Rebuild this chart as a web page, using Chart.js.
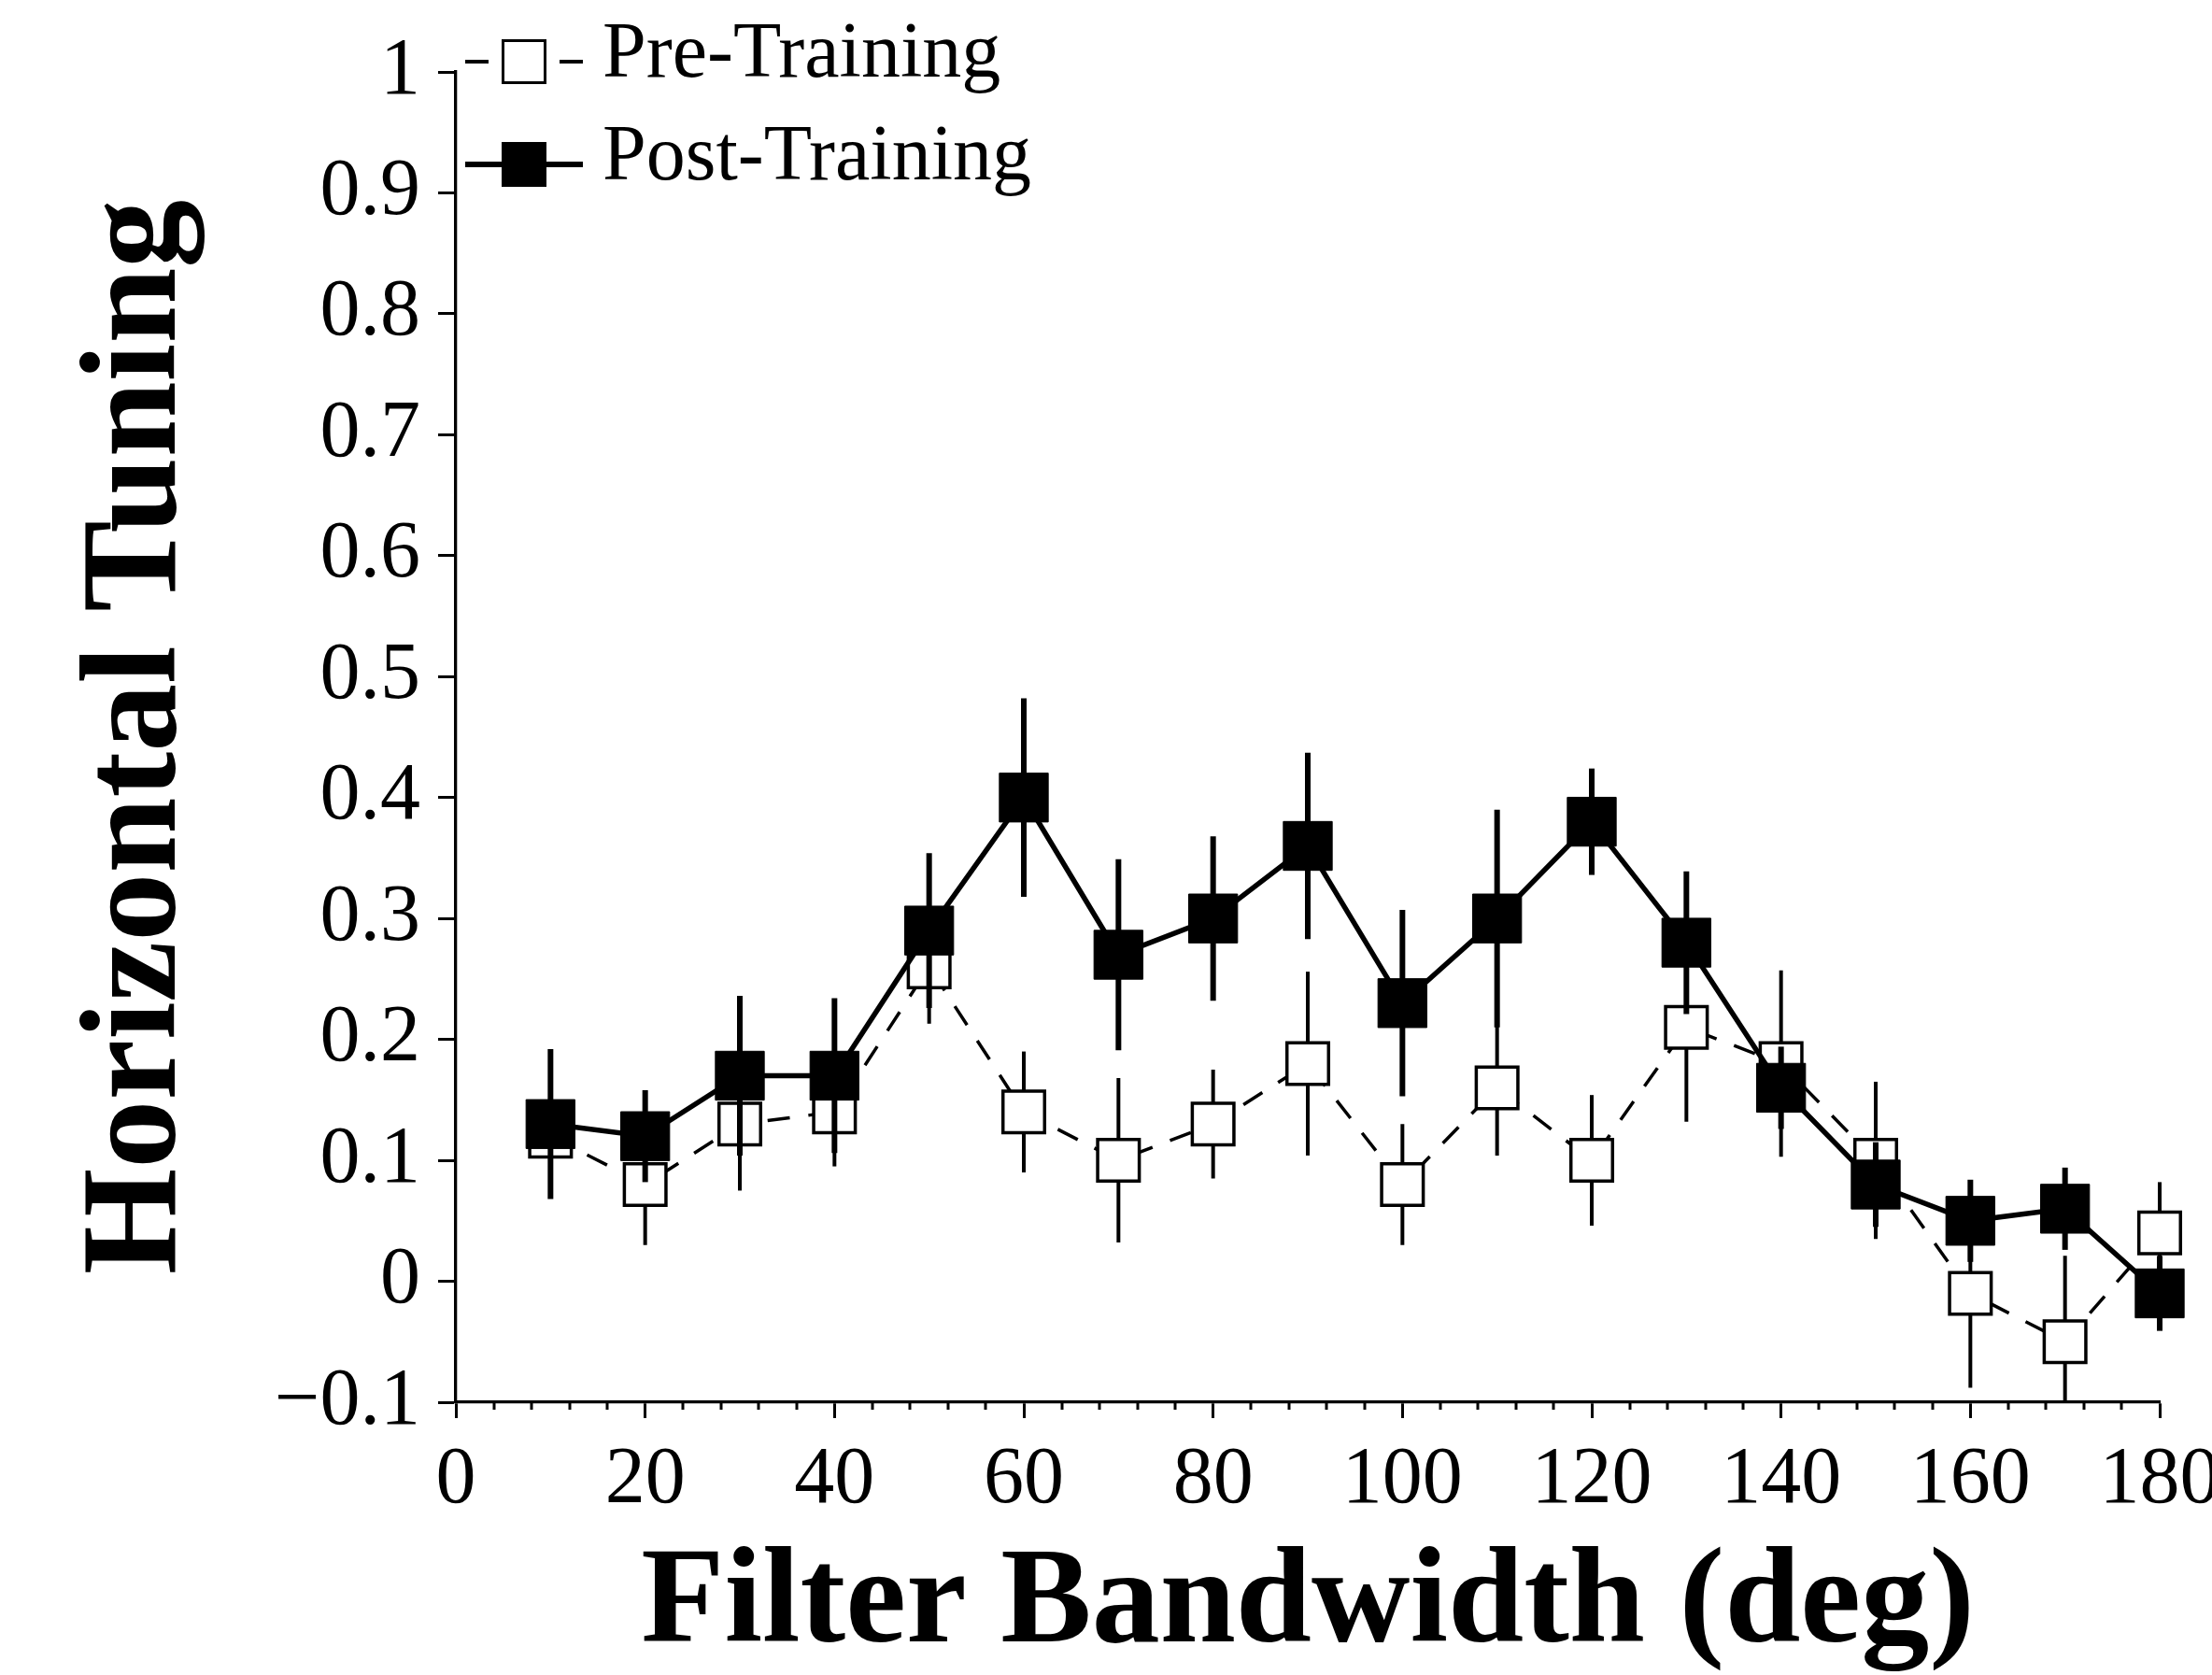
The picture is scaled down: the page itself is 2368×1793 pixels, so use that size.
<!DOCTYPE html>
<html>
<head>
<meta charset="utf-8">
<script src="https://cdn.jsdelivr.net/npm/chart.js@4.4.1/dist/chart.umd.min.js"></script>
<style>
  html, body { margin: 0; padding: 0; background: #fff; }
  #wrap { position: relative; width: 2368px; height: 1793px; }
</style>
</head>
<body>
<div id="wrap"><canvas id="chart"></canvas></div>
<script>
// filter bandwidth (deg)
const bandwidths = [10, 20, 30, 40, 50, 60, 70, 80, 90, 100, 110, 120, 130, 140, 150, 160, 170, 180];
const preTraining = [0.12, 0.08, 0.13, 0.14, 0.26, 0.14, 0.10, 0.13, 0.18, 0.08, 0.16, 0.10, 0.21, 0.18, 0.10, -0.01, -0.05, 0.04];
const preError = [0.05, 0.05, 0.055, 0.045, 0.047, 0.05, 0.068, 0.045, 0.076, 0.05, 0.056, 0.054, 0.078, 0.077, 0.065, 0.078, 0.071, 0.042];
const postTraining = [0.13, 0.12, 0.17, 0.17, 0.29, 0.40, 0.27, 0.30, 0.36, 0.23, 0.30, 0.38, 0.28, 0.16, 0.08, 0.05, 0.06, -0.01];
const postError = [0.062, 0.038, 0.066, 0.064, 0.064, 0.082, 0.079, 0.068, 0.077, 0.077, 0.09, 0.044, 0.059, 0.034, 0.035, 0.034, 0.034, 0.031];
const xTickLabels = [0, 20, 40, 60, 80, 100, 120, 140, 160, 180];

Chart.defaults.font.family = "'Liberation Serif', 'Times New Roman', serif";
Chart.defaults.color = '#000';

const toPoints = (ys) => ys.map((y, i) => ({ x: bandwidths[i], y: y }));

// vertical error bars, drawn just before each dataset's line and markers
const errorBars = {
    id: 'errorBars',
    beforeDatasetDraw(chart, args) {
        const ds = chart.data.datasets[args.index];
        if (!ds.errors) return;
        const y = chart.scales.y;
        const ctx = chart.ctx;
        ctx.save();
        ctx.strokeStyle = '#000';
        ctx.lineWidth = ds.errorWidth;
        args.meta.data.forEach((pt, i) => {
            const v = ds.data[i].y;
            const e = ds.errors[i];
            const hi = Math.min(v + e, y.max);
            const lo = Math.max(v - e, y.min);
            ctx.beginPath();
            ctx.moveTo(pt.x, y.getPixelForValue(hi));
            ctx.lineTo(pt.x, y.getPixelForValue(lo));
            ctx.stroke();
        });
        ctx.restore();
    }
};

// short minor ticks on the x axis between the labelled ones
const minorTicks = {
    id: 'minorTicks',
    afterDraw(chart) {
        const x = chart.scales.x;
        const ctx = chart.ctx;
        ctx.save();
        ctx.strokeStyle = '#000';
        ctx.lineWidth = 3;
        ctx.beginPath();
        x.ticks.forEach(t => {
            if (xTickLabels.includes(t.value)) return;
            const px = Math.round(x.getPixelForValue(t.value));
            ctx.moveTo(px, x.top);
            ctx.lineTo(px, x.top + 8);
        });
        ctx.stroke();
        ctx.restore();
    }
};

// legend in the top-left corner: line + marker + label
const cornerLegend = {
    id: 'cornerLegend',
    afterDraw(chart) {
        const ctx = chart.ctx;
        const items = [
            { ds: chart.data.datasets[0], y: 66, ty: 60 },
            { ds: chart.data.datasets[1], y: 176, ty: 170 }
        ];
        ctx.save();
        items.forEach(it => {
            const ds = it.ds;
            ctx.strokeStyle = '#000';
            ctx.lineWidth = ds.dashed ? 4 : 6;
            ctx.beginPath();
            if (ds.dashed) {
                ctx.moveTo(498, it.y); ctx.lineTo(523, it.y);
                ctx.moveTo(599, it.y); ctx.lineTo(624, it.y);
            } else {
                ctx.moveTo(498, it.y); ctx.lineTo(624, it.y);
            }
            ctx.stroke();
            ctx.fillStyle = ds.pointBackgroundColor;
            ctx.fillRect(537, it.y - 24, 48, 48);
            if (ds.dashed) {
                ctx.lineWidth = 3;
                ctx.strokeRect(538.5, it.y - 22.5, 45, 45);
            }
            ctx.fillStyle = '#000';
            ctx.font = "84px 'Liberation Serif', serif";
            ctx.textBaseline = 'middle';
            ctx.textAlign = 'left';
            ctx.fillText(ds.label, 645, it.ty);
        });
        ctx.restore();
    }
};

new Chart(document.getElementById('chart'), {
    type: 'line',
    data: {
        datasets: [
            {
                label: 'Pre-Training',
                data: toPoints(preTraining),
                errors: preError,
                errorWidth: 4,
                dashed: true,
                borderColor: '#000',
                borderWidth: 3.5,
                borderDash: [24, 20],
                pointStyle: 'rect',
                pointRadius: 31.5,
                pointBackgroundColor: '#fff',
                pointBorderColor: '#000',
                pointBorderWidth: 3.5,
                tension: 0,
                clip: false,
                order: 1
            },
            {
                label: 'Post-Training',
                data: toPoints(postTraining),
                errors: postError,
                errorWidth: 6,
                dashed: false,
                borderColor: '#000',
                borderWidth: 5.5,
                pointStyle: 'rect',
                pointRadius: 37,
                pointBackgroundColor: '#000',
                pointBorderColor: '#000',
                pointBorderWidth: 1,
                tension: 0,
                clip: false,
                order: 0
            }
        ]
    },
    options: {
        responsive: true,
        maintainAspectRatio: false,
        animation: false,
        devicePixelRatio: 1,
        layout: { padding: { top: 77, right: 56, bottom: 0, left: 0 } },
        plugins: {
            legend: { display: false },
            tooltip: { enabled: false }
        },
        scales: {
            x: {
                type: 'linear',
                min: 0,
                max: 180,
                border: { display: true, color: '#000', width: 3.3 },
                grid: {
                    drawOnChartArea: false,
                    drawTicks: true,
                    tickLength: 17,
                    tickWidth: 3,
                    tickColor: (c) => xTickLabels.includes(c.tick.value) ? '#000' : 'rgba(0,0,0,0)'
                },
                ticks: {
                    stepSize: 4,
                    autoSkip: false,
                    maxRotation: 0,
                    padding: 16,
                    font: { size: 86 },
                    callback: (v) => xTickLabels.includes(v) ? String(v) : ''
                },
                title: {
                    display: true,
                    text: 'Filter Bandwidth (deg)',
                    font: { size: 146, weight: 'bold', lineHeight: 1 },
                    padding: { top: 0, bottom: 1 }
                },
                afterFit(scale) {
                    scale.height = 292;
                    scale.paddingLeft = 0;
                    scale.paddingRight = 0;
                }
            },
            y: {
                min: -0.1,
                max: 1,
                border: { display: true, color: '#000', width: 3.3 },
                grid: {
                    drawOnChartArea: false,
                    drawTicks: true,
                    tickLength: 19,
                    tickWidth: 3,
                    tickColor: '#000'
                },
                ticks: {
                    stepSize: 0.1,
                    padding: 19,
                    font: { size: 86 },
                    callback: (v) => {
                        const r = Math.round(v * 10) / 10;
                        return r < 0 ? '\u2212' + String(-r) : String(r);
                    }
                },
                title: {
                    display: true,
                    text: 'Horizontal Tuning',
                    font: { size: 146, weight: 'bold', lineHeight: 1 },
                    padding: { top: 76, bottom: 0 }
                },
                afterFit(scale) {
                    scale.width = 488;
                    scale.paddingTop = 0;
                    scale.paddingBottom = 0;
                }
            }
        }
    },
    plugins: [errorBars, minorTicks, cornerLegend]
});
</script>
</body>
</html>
